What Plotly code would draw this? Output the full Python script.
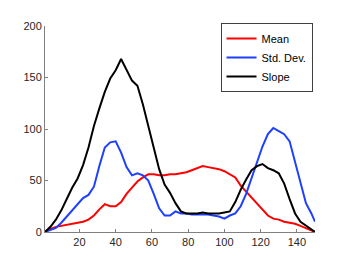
import plotly.graph_objects as go

x_vals = [1, 4, 7, 10, 13, 16, 19, 22, 25, 28, 31, 34, 37, 40, 43, 46, 49, 52, 55, 58,
          61, 64, 67, 70, 73, 76, 79, 82, 85, 88, 91, 94, 97, 100, 103, 106, 109, 112,
          115, 118, 121, 124, 127, 130, 133, 136, 139, 142, 145, 148, 150]

mean_vals = [0, 3, 5, 6, 7, 8, 9, 10, 12, 16, 22, 27, 25, 25, 29, 37, 43, 49, 53, 56,
             56, 55, 55, 56, 56, 57, 58, 60, 62, 64, 63, 62, 61, 59, 56, 53, 45, 39,
             34, 28, 22, 16, 13, 12, 10, 9, 8, 6, 4, 2, 0]

std_vals = [0, 2, 4, 9, 15, 22, 28, 33, 36, 44, 64, 82, 87, 88, 77, 63, 55, 57, 55, 50,
            37, 23, 16, 16, 20, 18, 18, 17, 17, 17, 17, 16, 15, 13, 16, 18, 25, 37,
            52, 67, 83, 95, 101, 98, 95, 88, 67, 47, 28, 18, 10]

slope_vals = [0, 5, 12, 21, 32, 43, 52, 65, 82, 103, 120, 136, 149, 157, 168, 157, 147, 142, 124, 103,
              81, 61, 46, 38, 28, 20, 18, 18, 18, 19, 18, 18, 18, 19, 20, 29, 41, 51,
              60, 64, 66, 62, 60, 57, 47, 32, 18, 10, 6, 2, 0]

series = [("Mean", mean_vals, "#ff0000"),
          ("Std. Dev.", std_vals, "#1f3fff"),
          ("Slope", slope_vals, "#000000")]

x_ticks = [20, 40, 60, 80, 100, 120, 140]
y_ticks = [0, 50, 100, 150, 200]

fig = go.Figure()
for name, vals, color in series:
    fig.add_trace(go.Scatter(x=x_vals, y=vals, mode="lines", name=name,
                             line=dict(color=color, width=2)))

axis_common = dict(showgrid=False, zeroline=False, showline=True,
                   linecolor="#808080", linewidth=1, ticks="inside",
                   ticklen=3, tickcolor="#808080", mirror=False,
                   tickfont=dict(family="Liberation Sans, Arial, sans-serif",
                                 size=11, color="#262626"))

# page body has an 8px default margin, so the figure is 8px smaller with reduced left/top margins
fig.update_layout(
    width=338, height=252,
    margin=dict(l=37, r=31, t=12, b=28),
    plot_bgcolor="white", paper_bgcolor="white",
    showlegend=True,
    legend=dict(x=0.65, y=1.015, xanchor="left", yanchor="top",
                bordercolor="#404040", borderwidth=1, bgcolor="white",
                font=dict(family="Liberation Sans, Arial, sans-serif", size=11, color="#000000"),
                tracegroupgap=0, itemwidth=30),
    xaxis=dict(range=[1, 150], tickvals=x_ticks, **axis_common),
    yaxis=dict(range=[0, 200], tickvals=y_ticks, **axis_common),
)

fig.write_html("out.html")
